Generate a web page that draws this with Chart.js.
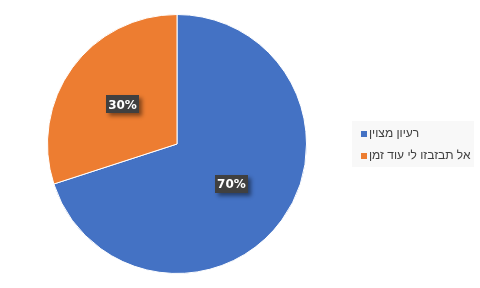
<!DOCTYPE html>
<html><head><meta charset="utf-8">
<script src="https://cdn.jsdelivr.net/npm/chart.js@4"></script>
<style>html,body{margin:0;padding:0;background:#fff}#wrap{width:480px;height:288px}</style>
</head><body><div id="wrap"><canvas id="c" width="480" height="288"></canvas></div>
<script>
const categories = ["רעיון מצוין", "אל תבזבזו לי עוד זמן"];
const values = [70, 30];
const labels = ["70%", "30%"];
const colors = ["#4472C4", "#ED7D31"];

const labelPlugin = {
  id: 'lbl',
  afterDatasetsDraw(chart) {
    const ctx = chart.ctx;
    const meta = chart.getDatasetMeta(0);
    ctx.save();
    ctx.font = 'bold 12px "DejaVu Sans", "Liberation Sans", sans-serif';
    meta.data.forEach((arc, i) => {
      const mid = (arc.startAngle + arc.endAngle) / 2;
      const d = arc.outerRadius * 0.52;
      const x = arc.x + Math.cos(mid) * d;
      const y = arc.y + Math.sin(mid) * d;
      const w = 33, h = 18;
      ctx.shadowColor = 'rgba(0,0,0,0.45)';
      ctx.shadowBlur = 4;
      ctx.shadowOffsetX = 3;
      ctx.shadowOffsetY = 3;
      ctx.fillStyle = '#404040';
      ctx.fillRect(Math.round(x - w / 2), Math.round(y - h / 2), w, h);
      ctx.shadowColor = 'transparent';
      ctx.fillStyle = '#ffffff';
      ctx.textAlign = 'center';
      ctx.textBaseline = 'middle';
      ctx.fillText(labels[i], x, y + 1);
    });
    ctx.restore();
  }
};

const legendPlugin = {
  id: 'leg',
  afterDraw(chart) {
    const ctx = chart.ctx;
    ctx.save();
    ctx.fillStyle = '#f8f8f8';
    ctx.fillRect(352, 121, 122, 46);
    ctx.font = '12px "Liberation Sans", Arial, sans-serif';
    ctx.textBaseline = 'middle';
    ctx.textAlign = 'left';
    const ys = [134, 156];
    categories.forEach((c, i) => {
      ctx.fillStyle = colors[i];
      ctx.fillRect(361, ys[i] - 3, 6, 6);
      ctx.fillStyle = '#404040';
      ctx.fillText(c, 369, ys[i]);
    });
    ctx.restore();
  }
};

new Chart(document.getElementById('c'), {
  type: 'pie',
  data: {
    labels: categories,
    datasets: [{
      data: values,
      backgroundColor: colors,
      borderColor: '#ffffff',
      borderWidth: 1
    }]
  },
  options: {
    responsive: false,
    animation: false,
    layout: { padding: { left: 47, right: 173, top: 14, bottom: 14 } },
    plugins: { legend: { display: false }, tooltip: { enabled: false } }
  },
  plugins: [labelPlugin, legendPlugin]
});
</script>
</body></html>
